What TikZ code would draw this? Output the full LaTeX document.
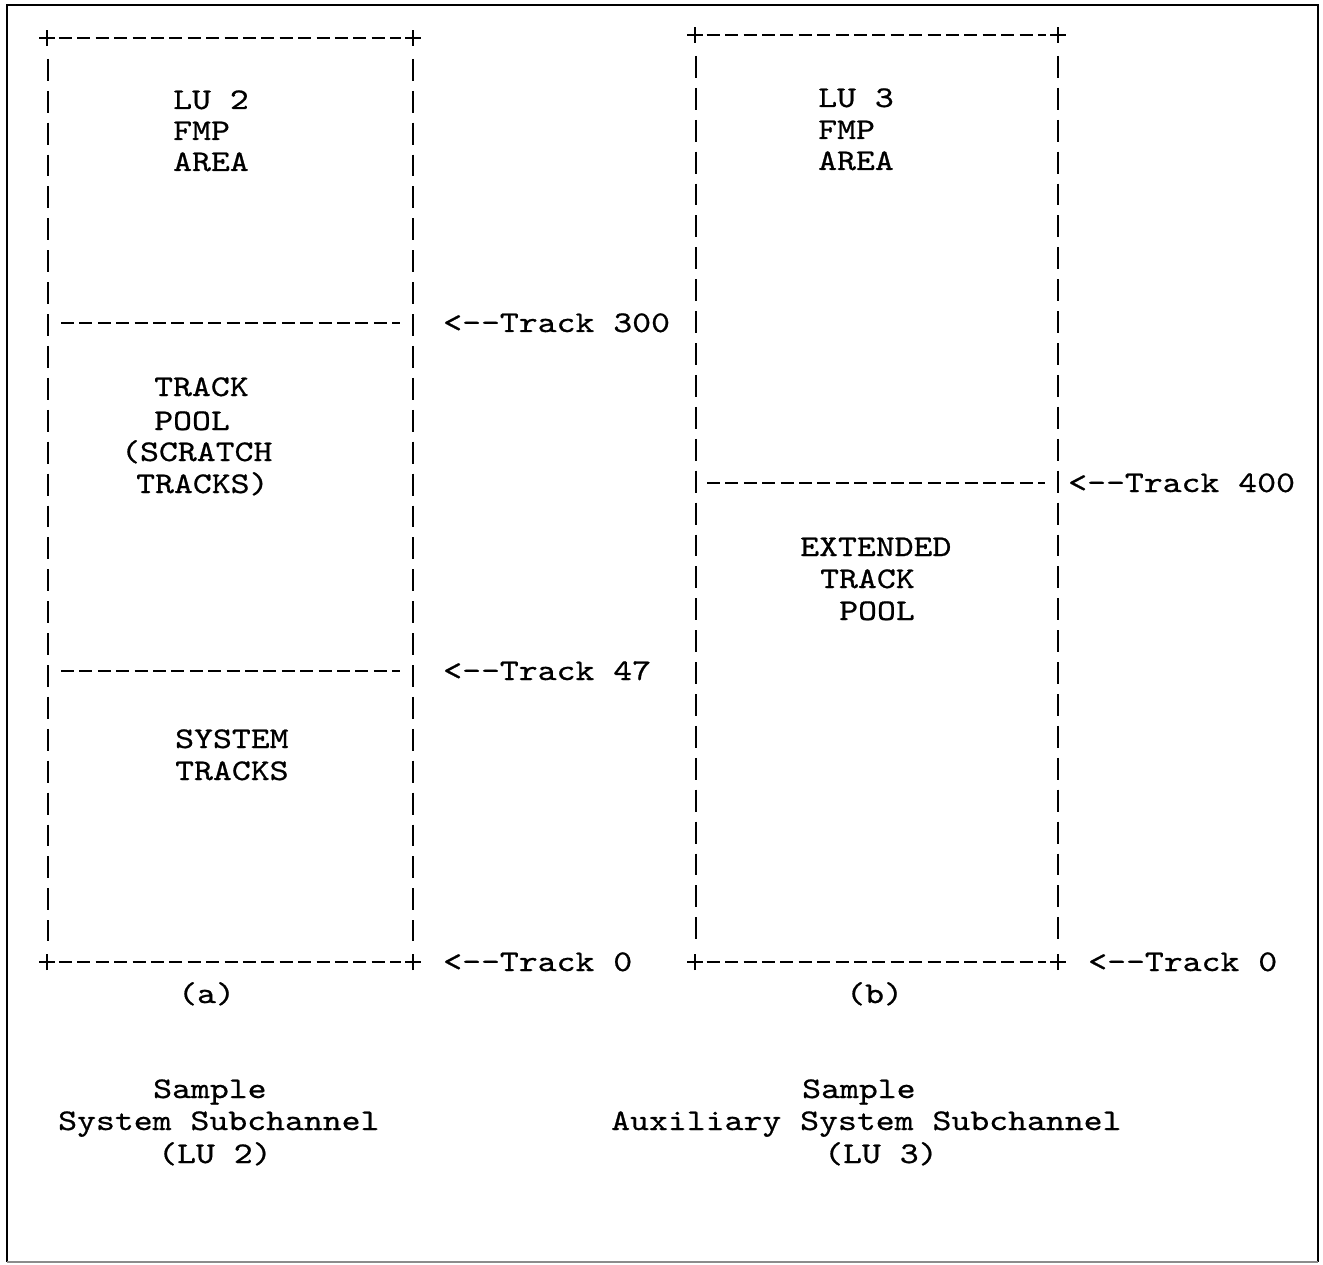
\documentclass[tikz,border=0pt]{standalone}
\usepackage{fontspec}
\newfontfamily\twfam{lmmono10-regular}[Extension=.otf, FakeStretch=1.2, FakeBold=0.7]
\newcommand{\twfont}{\twfam\fontsize{30}{36}\selectfont}
\begin{document}
\begin{tikzpicture}[x=1pt,y=-1pt,
  txt/.style={font=\twfont, inner sep=0pt, anchor=base west},
  hdash/.style={line width=2.9pt, dash pattern=on 13pt off 5.4pt},
  vdash/.style={line width=2.7pt, dash pattern=on 21.9pt off 10pt},
  frame/.style={line width=2.6pt},
  plus/.style={line width=2.8pt}]
\useasboundingbox (0,0) rectangle (1323,1265);
% outer frame
\coordinate (fTL) at (7,5);
\coordinate (fTR) at (1318,5);
\coordinate (fBR) at (1318,1262);
\coordinate (fBL) at (7,1262);
\draw[frame] (fBL) -- (fTL) -- (fTR) -- (fBR);
\draw[frame, black!45] (fBL) -- (fBR);
% left box corners
\coordinate (aTL) at (47,38);
\coordinate (aTR) at (413,38);
\coordinate (aBL) at (47,962);
\coordinate (aBR) at (413,962);
\coordinate (a300L) at (48,323);
\coordinate (a300R) at (413,323);
\coordinate (a47L) at (48,671);
\coordinate (a47R) at (413,671);
% right box corners
\coordinate (bTL) at (695,35);
\coordinate (bTR) at (1058,35);
\coordinate (bBL) at (695,962);
\coordinate (bBR) at (1058,962);
\coordinate (b400L) at (696,483);
\coordinate (b400R) at (1058,483);
% horizontal dashed edges
\draw[hdash] ([xshift=11.9pt]aTL) -- ([xshift=-11.9pt]aTR);
\draw[hdash] ([xshift=11.9pt]aBL) -- ([xshift=-11.9pt]aBR);
\draw[hdash] ([xshift=13pt]a300L) -- ([xshift=-13pt]a300R);
\draw[hdash] ([xshift=13pt]a47L) -- ([xshift=-13pt]a47R);
\draw[hdash] ([xshift=11.7pt]bTL) -- ([xshift=-11.7pt]bTR);
\draw[hdash] ([xshift=11.7pt]bBL) -- ([xshift=-11.7pt]bBR);
\draw[hdash] ([xshift=11pt]b400L) -- ([xshift=-13pt]b400R);
% vertical bar edges
\draw[vdash] ([xshift=1pt,yshift=-20.9pt]aTL) -- ([xshift=1pt,yshift=21pt]aBL);
\draw[vdash] ([yshift=-20.9pt]aTR) -- ([yshift=21pt]aBR);
\draw[vdash] ([xshift=1pt,yshift=-21pt]bTL) -- ([xshift=1pt,yshift=21pt]bBL);
\draw[vdash] ([yshift=-21pt]bTR) -- ([yshift=21pt]bBR);
% plus corners
\foreach \c in {aTL,aTR,aBL,aBR,bTL,bTR,bBL,bBR}{
  \draw[plus] ([xshift=-8pt]\c) -- ([xshift=8pt]\c);
  \draw[plus] ([yshift=-8pt]\c) -- ([yshift=8pt]\c);
}
% left box texts
\node[txt] (lu2) at (173,109) {LU 2};
\node[txt] (fmp2) at (173,140) {FMP};
\node[txt] (area2) at (173,171) {AREA};
\node[txt] (trk) at (154,396) {TRACK};
\node[txt] (pool) at (154,430) {POOL};
\node[txt] (scr) at (121,461) {(SCRATCH};
\node[txt] (trks) at (136,493) {TRACKS)};
\node[txt] (sys) at (175,748) {SYSTEM};
\node[txt] (systr) at (175,780) {TRACKS};
\node[txt] (capa) at (178,1003) {(a)};
\node[txt] (sam2) at (153,1098) {Sample};
\node[txt] (ssc) at (58,1130) {System Subchannel};
\node[txt] (lu2b) at (158,1163) {(LU 2)};
% right box texts
\node[txt] (lu3) at (818,107) {LU 3};
\node[txt] (fmp3) at (818,139) {FMP};
\node[txt] (area3) at (818,170) {AREA};
\node[txt] (ext) at (800,556) {EXTENDED};
\node[txt] (etrk) at (820,588) {TRACK};
\node[txt] (epool) at (839,620) {POOL};
\node[txt] (capb) at (846,1003) {(b)};
\node[txt] (sam3) at (802,1098) {Sample};
\node[txt] (assc) at (611,1130) {Auxiliary System Subchannel};
\node[txt] (lu3b) at (824,1163) {(LU 3)};
% track labels
\node[txt] (t300) at (443,332) {<-\kern0pt-Track 300};
\node[txt] (t47) at (443,680) {<-\kern0pt-Track 47};
\node[txt] (t0a) at (443,971) {<-\kern0pt-Track 0};
\node[txt] (t400) at (1068,492) {<-\kern0pt-Track 400};
\node[txt] (t0b) at (1088,971) {<-\kern0pt-Track 0};
\end{tikzpicture}
\end{document}
